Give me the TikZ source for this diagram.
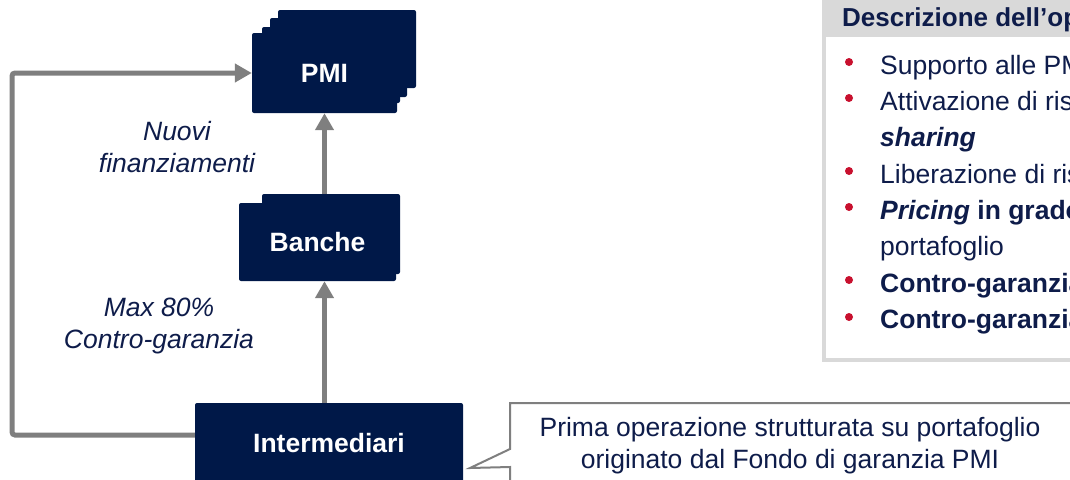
\documentclass[tikz,border=0pt]{standalone}
\usepackage{fontspec}
\setmainfont{Liberation Sans}
\usetikzlibrary{arrows.meta}
\definecolor{navy}{RGB}{0,24,72}
\definecolor{inknavy}{RGB}{14,28,74}
\definecolor{flowgray}{RGB}{127,127,127}
\definecolor{panelgray}{RGB}{217,217,217}
\definecolor{dotred}{RGB}{200,16,46}
\begin{document}
\begin{tikzpicture}[x=1pt,y=-1pt,
		font=\fontsize{26.5}{31}\selectfont,
		block/.style={fill=navy,rounded corners=2pt,inner sep=0pt,text=white,font=\fontsize{26.5}{31}\selectfont\bfseries},
		flow/.style={draw=flowgray,line width=5pt,rounded corners=3pt,-{Triangle[length=17pt,width=18pt]}},
		label/.style={text=inknavy,align=center,font=\fontsize{26.5}{32}\selectfont\itshape},
		item/.style={anchor=base west,text=inknavy,inner sep=0pt},
		dot/.style={circle,fill=dotred,inner sep=0pt,minimum size=8pt}]
		\useasboundingbox (0,0) rectangle (1070,479);
		\clip (0,0) rectangle (1070,479);

		% stacked PMI boxes
		\node[block,minimum width=138pt,minimum height=78pt] (pmiC) at (347,49) {};
		\node[block,minimum width=137pt,minimum height=79pt] (pmiB) at (338.5,57.5) {};
		\node[block,minimum width=138pt,minimum height=76pt] (pmiA) at (331,65) {};
		\node[block,minimum width=145pt,minimum height=80pt] (pmi) at (324.5,73) {PMI};

		\node[block,minimum width=138pt,minimum height=80pt] (bancheB) at (331,234) {};
		\node[block,minimum width=157pt,minimum height=78pt] (banche) at (317.5,242) {Banche};

		\node[block,minimum width=268pt,minimum height=80pt] (intermediari) at (329,443) {Intermediari};

		\node[label] (nuovi) at (177,147) {Nuovi\\finanziamenti};
		\node[label] (maxcg) at (159,326) {Max 80\%\\Contro-garanzia};

		\coordinate (loopb) at (12,435);
		\coordinate (loopt) at (12,73);

		\draw[flow] ([yshift=8pt]intermediari.west) -- (loopb) -- (loopt) -- (pmi.west);
		\draw[flow] (intermediari.north -| pmi) -- (banche.south -| pmi);
		\draw[flow] (bancheB.north -| pmi) -- (pmi.south);

		% callout
		\coordinate (ctr) at (1074,403);
		\coordinate (ctl) at (510,403);
		\coordinate (cpa) at (510,449);
		\coordinate (ctip) at (470,468);
		\coordinate (cpb) at (510,467);
		\coordinate (cbl) at (510,486);
		\coordinate (cbr) at (1074,486);
		\draw[draw=flowgray,fill=white,line width=2pt] (ctr) -- (ctl) -- (cpa) -- (ctip) -- (cpb) -- (cbl) -- (cbr) -- cycle;
		\node[text=inknavy,align=center,font=\fontsize{26.5}{32}\selectfont] (note) at (790,446) {Prima operazione strutturata su portafoglio\\originato dal Fondo di garanzia PMI};

		% description panel
		\fill[panelgray] (822,-5) rectangle (1075,362);
		\fill[white] (826,37) rectangle (1075,358);
		\node[item,font=\fontsize{26}{31}\selectfont\bfseries] (title) at (842,27) {Descrizione dell’op};

		\node[dot] (b1) at (849,62) {};
		\node[dot] (b2) at (849,98) {};
		\node[dot] (b3) at (849,171) {};
		\node[dot] (b4) at (849,207) {};
		\node[dot] (b5) at (849,280) {};
		\node[dot] (b6) at (849,317) {};

		\node[item] (d1) at (880,74) {Supporto alle PM};
		\node[item] (d2) at (880,110) {Attivazione di ris};
		\node[item] (d3) at (880,146) {\textbf{\textit{sharing}}};
		\node[item] (d4) at (880,183) {Liberazione di ris};
		\node[item] (d5) at (880,219) {\textbf{\textit{Pricing} in grado}};
		\node[item] (d6) at (880,255) {portafoglio};
		\node[item] (d7) at (880,292) {\textbf{Contro-garanzia}};
		\node[item] (d8) at (880,328) {\textbf{Contro-garanzia}};
	\end{tikzpicture}
\end{document}
